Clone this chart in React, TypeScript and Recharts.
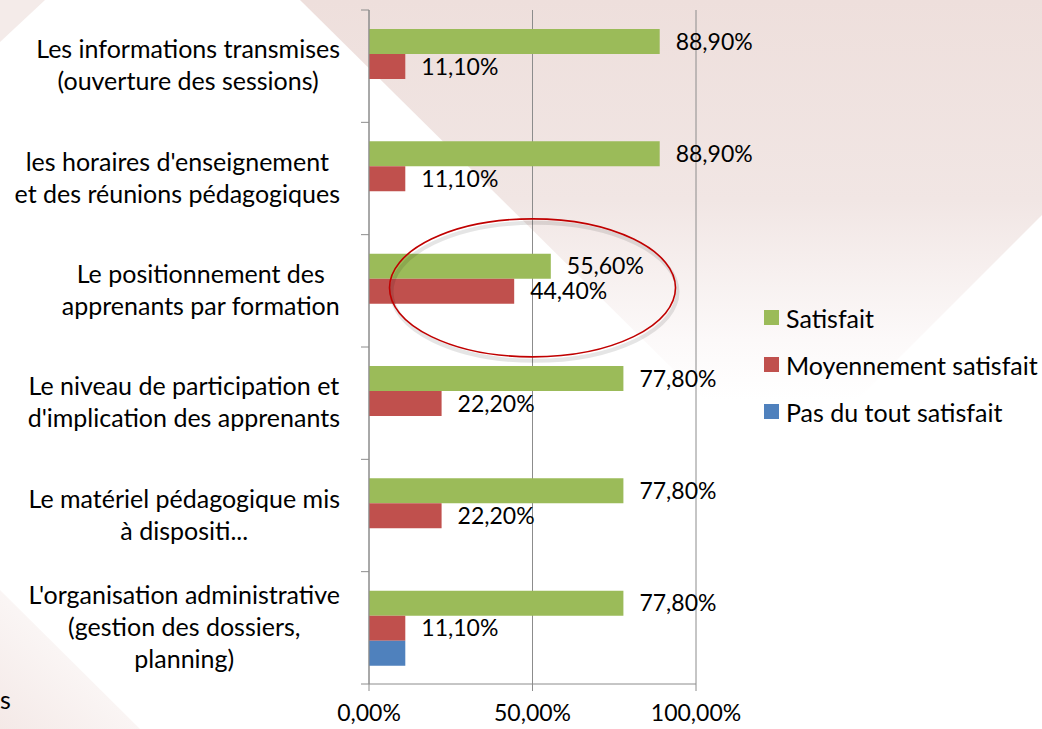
import React from "react";
import {
  BarChart,
  Bar,
  XAxis,
  YAxis,
  CartesianGrid,
  LabelList,
  ReferenceDot,
} from "recharts";

const categories = [
  "Les informations transmises\n(ouverture des sessions)",
  "les horaires d'enseignement\net des réunions pédagogiques",
  "Le positionnement des\napprenants par formation",
  "Le niveau de participation et\nd'implication des apprenants",
  "Le matériel pédagogique mis\nà dispositi...",
  "L'organisation administrative\n(gestion des dossiers,\nplanning)",
];
const satisfait = [88.9, 88.9, 55.6, 77.8, 77.8, 77.8];
const moyennement = [11.1, 11.1, 44.4, 22.2, 22.2, 11.1];
const pasDuTout = [0, 0, 0, 0, 0, 11.1];
const seriesNames = ["Satisfait", "Moyennement satisfait", "Pas du tout satisfait"];
const seriesColors = ["#9BBB59", "#C0504D", "#4F81BD"];
const xTicks = [0, 50, 100];

const data = categories.map((c, i) => ({
  label: c,
  s: satisfait[i],
  m: moyennement[i],
  p: pasDuTout[i],
}));

const FONT = "Lato, 'Open Sans', sans-serif";
const FS = 25;
const FSN = 23;
const TOP = 10;
const BOTTOM_AXIS = 45;
const H = 729;
const W = 1042;
const BAND = (H - TOP - BOTTOM_AXIS) / categories.length;

const fmt = (v: any) => (typeof v === "number" ? v.toFixed(2).replace(".", ",") + "%" : v);

let ctx: CanvasRenderingContext2D | null = null;
function measure(t: string) {
  try {
    if (!ctx) ctx = document.createElement("canvas").getContext("2d");
    if (ctx) {
      ctx.font = `${FS}px Lato`;
      return ctx.measureText(t).width;
    }
  } catch (e) {}
  return t.length * FS * 0.5;
}

const CatTick = (props: any) => {
  const { x, y, payload, index } = props;
  const lines = String(payload.value).split("\n");
  const maxW = Math.max(...lines.map(measure));
  const right = 340;
  const cx = right - maxW / 2;
  const n = lines.length;
  return (
    <g>
      <line x1={x} x2={x + 8} y1={y - BAND / 2} y2={y - BAND / 2} stroke="#8c8c8c" />
      {index === categories.length - 1 && (
        <line x1={x} x2={x + 8} y1={y + BAND / 2} y2={y + BAND / 2} stroke="#8c8c8c" />
      )}
      {lines.map((l, i) => (
        <text
          key={i}
          x={cx}
          y={y + (i - (n - 1) / 2) * 32 + 8}
          textAnchor="middle"
          fontFamily={FONT}
          fontSize={FS}
          fill="#000"
        >
          {l}
        </text>
      ))}
    </g>
  );
};

const EllipseShape = (props: any) => {
  const { cx, cy } = props;
  return (
    <g>
      <ellipse cx={cx + 2} cy={cy + 1} rx={143} ry={69} fill="none" stroke="rgba(0,0,0,0.10)" strokeWidth={4} />
      <ellipse cx={cx} cy={cy - 3} rx={143} ry={69} fill="none" stroke="#C00000" strokeWidth={1.6} />
    </g>
  );
};

export default function App() {
  return (
    <div style={{ position: "absolute", left: 0, top: 0, width: W, height: H, background: "#fff", overflow: "hidden" }}>
      <svg width={W} height={H} style={{ position: "absolute", left: 0, top: 0 }}>
        <defs>
          <linearGradient id="bgpink" x1="0" y1="0" x2="0" y2="400" gradientUnits="userSpaceOnUse">
            <stop offset="0" stopColor="#EEDFDC" />
            <stop offset="0.5" stopColor="#F1E6E4" />
            <stop offset="0.85" stopColor="#FCF9F9" />
            <stop offset="1" stopColor="#FFFFFF" />
          </linearGradient>
          <linearGradient id="bgpink2" x1="0" y1="729" x2="120" y2="600" gradientUnits="userSpaceOnUse">
            <stop offset="0" stopColor="#F4E9E7" />
            <stop offset="1" stopColor="#FFFFFF" />
          </linearGradient>
        </defs>
        <polygon points="300,0 1042,0 1042,215 781,476" fill="url(#bgpink)" />
        <polygon points="0,0 45,0 0,42" fill="#F4EBE9" />
        <polygon points="0,590 140,729 0,729" fill="url(#bgpink2)" />
      </svg>
      <div style={{ position: "absolute", left: 0, top: 0 }}>
        <BarChart
          width={W}
          height={H}
          layout="vertical"
          data={data}
          margin={{ top: TOP, right: 346, bottom: 0, left: 0 }}
          barGap={0}
          barSize={25}
        >
          <CartesianGrid vertical horizontal={false} stroke="#8c8c8c" />
          <XAxis
            type="number"
            domain={[0, 100]}
            ticks={xTicks}
            tickFormatter={fmt}
            height={BOTTOM_AXIS}
            axisLine={{ stroke: "#8c8c8c" }}
            tickLine={{ stroke: "#8c8c8c" }}
            tickSize={7}
            tickMargin={14}
            tick={{ fill: "#000", fontSize: FSN, fontFamily: FONT }}
            interval={0}
          />
          <YAxis
            type="category"
            dataKey="label"
            width={369}
            axisLine={{ stroke: "#8c8c8c" }}
            tickLine={false}
            tickSize={8}
            tickMargin={0}
            interval={0}
            tick={(p: any) => <CatTick {...p} />}
          />
          <Bar dataKey="s" name={seriesNames[0]} fill={seriesColors[0]} isAnimationActive={false}>
            <LabelList dataKey="s" position="right" offset={16} formatter={fmt} fill="#000" fontSize={FSN} fontFamily={FONT} />
          </Bar>
          <Bar dataKey="m" name={seriesNames[1]} fill={seriesColors[1]} isAnimationActive={false}>
            <LabelList dataKey="m" position="right" offset={16} formatter={fmt} fill="#000" fontSize={FSN} fontFamily={FONT} />
          </Bar>
          <Bar dataKey="p" name={seriesNames[2]} fill={seriesColors[2]} isAnimationActive={false} />
          <ReferenceDot x={50} y={categories[2]} r={0} shape={(p: any) => <EllipseShape {...p} />} ifOverflow="visible" />
        </BarChart>
      </div>
      <div style={{ position: "absolute", left: 764, top: 294, fontFamily: FONT, fontSize: FS, color: "#000" }}>
        {seriesNames.map((n, i) => (
          <div key={n} style={{ display: "flex", alignItems: "center", height: 47 }}>
            <div style={{ width: 15, height: 15, background: seriesColors[i], marginRight: 7 }} />
            <span>{n}</span>
          </div>
        ))}
      </div>
      <div style={{ position: "absolute", left: 0, top: 684, fontFamily: FONT, fontSize: FS, color: "#000" }}>s</div>
    </div>
  );
}
